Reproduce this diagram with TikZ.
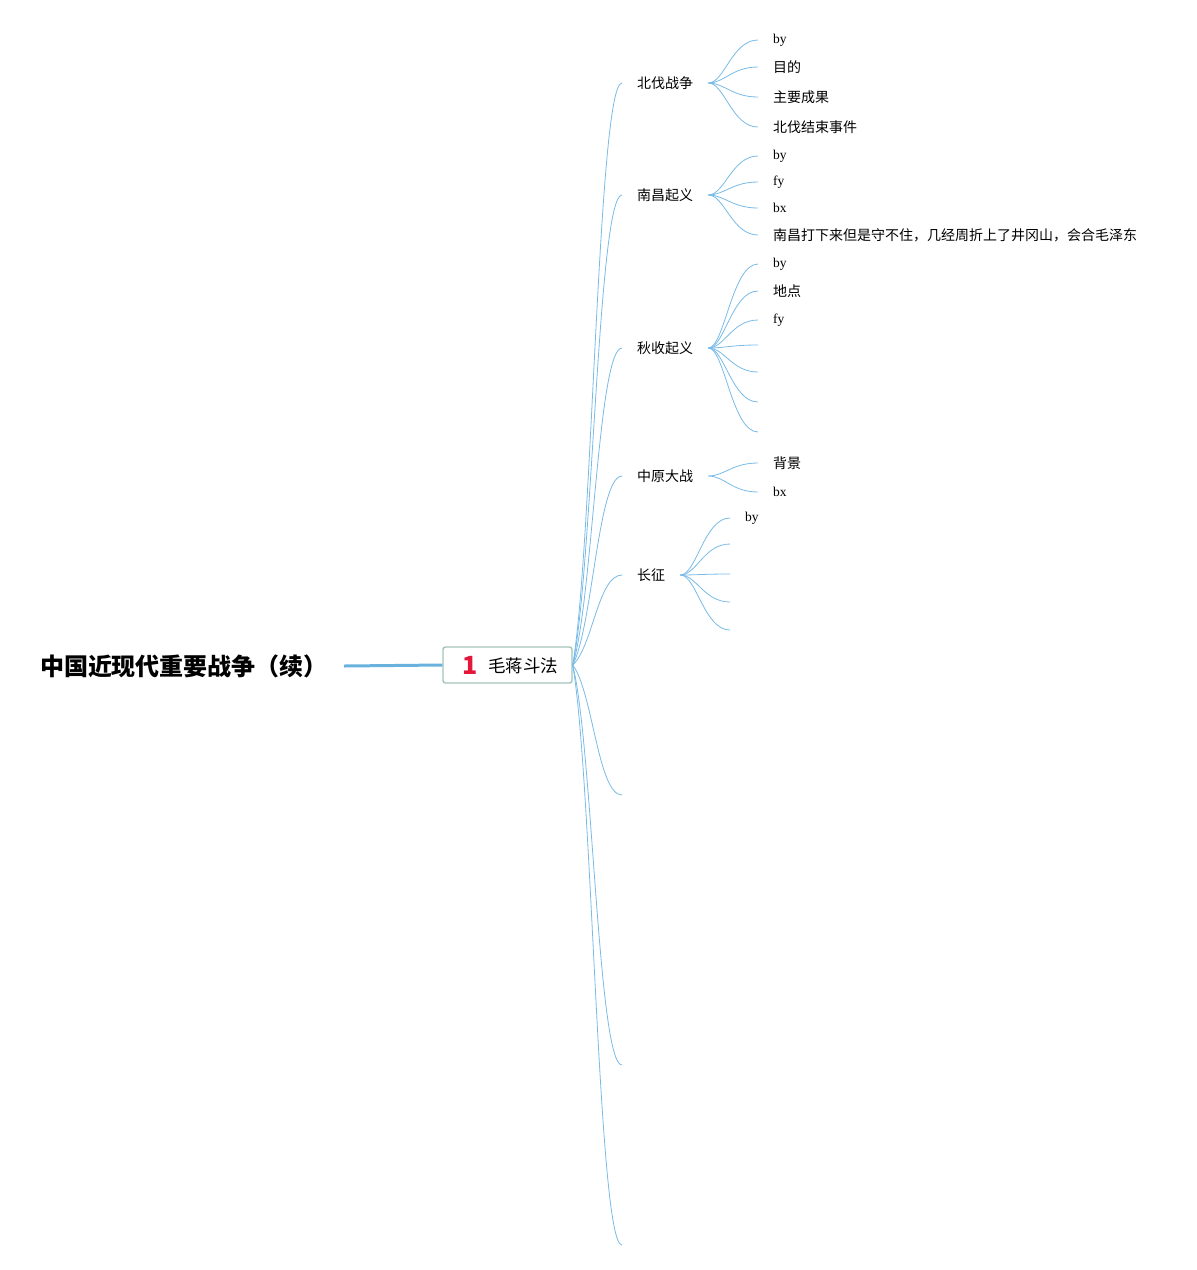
\documentclass[tikz,border=0pt]{standalone}
\usepackage{fontspec}
\setmainfont{Liberation Serif}
\newfontfamily\cjk{Noto Sans CJK SC}
\usepackage{tikz}
\definecolor{branchblue}{HTML}{78BBE6}
\definecolor{trunkblue}{HTML}{6AB2DE}
\definecolor{rootframe}{HTML}{A4C4BA}
\definecolor{numred}{HTML}{E3173A}
\tikzset{maintitle/.style={inner xsep=16pt,font=\cjk\bfseries\fontsize{24}{28}\selectfont}}
\tikzset{rootbox/.style={draw=rootframe,line width=1.4pt,rounded corners=2.5pt,fill=white,minimum width=129pt,minimum height=36pt,inner sep=0pt,font=\cjk\fontsize{17.5}{20}\selectfont}}
\tikzset{topic/.style={anchor=west,inner xsep=15pt,inner ysep=2pt,font=\cjk\fontsize{14}{17}\selectfont}}
\tikzset{abbr/.style={anchor=west,inner xsep=15pt,inner ysep=2pt,font=\fontsize{13.5}{16}\selectfont}}
\tikzset{trunk/.style={draw=trunkblue,line width=3pt}}
\tikzset{branch/.style={draw=branchblue,line width=0.8pt}}

\begin{document}
\begin{tikzpicture}[x=1pt,y=-1pt]
    \useasboundingbox (0,0) rectangle (1197,1270);
    \node [maintitle] (title) at (184,666) {中国近现代重要战争（续）};
    \node [rootbox] (root) at (507.5,665) {\hspace{6pt}\raisebox{-2pt}{\fontsize{25}{25}\selectfont\bfseries\color{numred}1}\hspace{10pt}毛蒋斗法};
    \draw [trunk] (title.east) -- (root.west);
    % main topics
    \node [topic] (bf) at (622,83) {北伐战争};
    \node [topic] (nc) at (622,195) {南昌起义};
    \node [topic] (qs) at (622,348) {秋收起义};
    \node [topic] (zy) at (622,476) {中原大战};
    \node [topic] (cz) at (622,575) {长征};
    \coordinate (ea) at (622,795);
    \coordinate (eb) at (622,1065);
    \coordinate (ec) at (622,1245);
    \foreach \n/\y in {bf/83,nc/195,qs/348,zy/476,cz/575}
        \draw [branch] (root.east) .. controls +(20,{0.2*(\y-665)}) and +(-24,0) .. (\n.west);
    \foreach \n/\y in {ea/795,eb/1065,ec/1245}
        \draw [branch] (root.east) .. controls +(20,{0.2*(\y-665)}) and +(-24,0) .. (\n);
    % subtopics
    \node [abbr] (bf1) at (758,40) {by};
    \node [topic] (bf2) at (758,67) {目的};
    \node [topic] (bf3) at (758,97) {主要成果};
    \node [topic] (bf4) at (758,127) {北伐结束事件};
    \node [abbr] (nc1) at (758,156) {by};
    \node [abbr] (nc2) at (758,182) {fy};
    \node [abbr] (nc3) at (758,208) {bx};
    \node [topic] (nc4) at (758,235) {南昌打下来但是守不住，几经周折上了井冈山，会合毛泽东};
    \node [abbr] (qs1) at (758,264) {by};
    \node [topic] (qs2) at (758,291) {地点};
    \node [abbr] (qs3) at (758,320) {fy};
    \coordinate (qs4) at (758,345);
    \coordinate (qs5) at (758,372);
    \coordinate (qs6) at (758,402);
    \coordinate (qs7) at (758,432);
    \node [topic] (zy1) at (758,463) {背景};
    \node [abbr] (zy2) at (758,492) {bx};
    \node [abbr] (cz1) at (730,518) {by};
    \coordinate (cz2) at (730,544);
    \coordinate (cz3) at (730,574);
    \coordinate (cz4) at (730,602);
    \coordinate (cz5) at (730,630);
    \foreach \p/\c in {bf/bf1,bf/bf2,bf/bf3,bf/bf4,nc/nc1,nc/nc2,nc/nc3,nc/nc4,qs/qs1,qs/qs2,qs/qs3,zy/zy1,zy/zy2,cz/cz1}
        \draw [branch] (\p.east) .. controls +(16,0) and +(-26,0) .. (\c.west);
    \foreach \p/\c in {qs/qs4,qs/qs5,qs/qs6,qs/qs7,cz/cz2,cz/cz3,cz/cz4,cz/cz5}
        \draw [branch] (\p.east) .. controls +(16,0) and +(-26,0) .. (\c);
\end{tikzpicture}
\end{document}
